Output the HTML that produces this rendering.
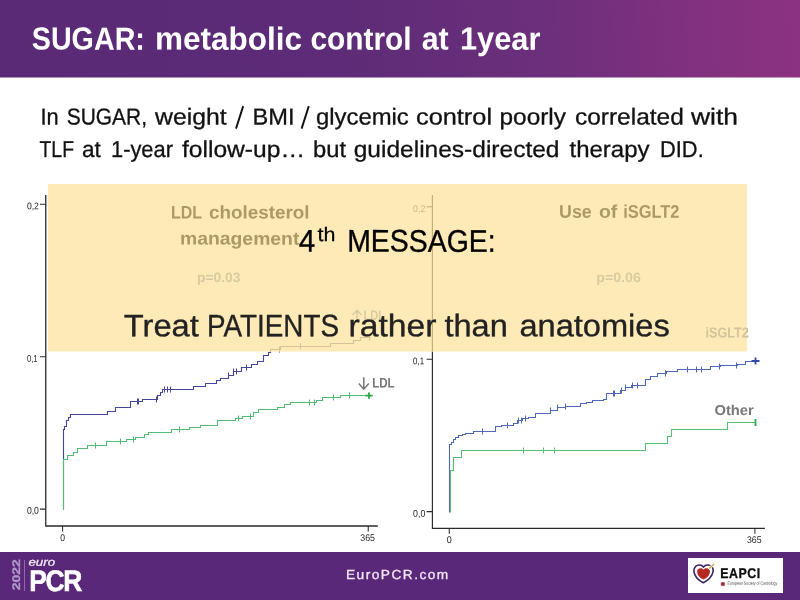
<!DOCTYPE html>
<html><head><meta charset="utf-8"><title>SUGAR: metabolic control at 1year</title>
<style>
html,body{margin:0;padding:0;}
body{width:800px;height:600px;position:relative;overflow:hidden;background:#fff;font-family:"Liberation Sans",sans-serif;}
.abs{position:absolute;}
.t{position:absolute;left:0;top:0;white-space:nowrap;line-height:1;transform-origin:0 0;}
#wrap{position:absolute;left:0;top:0;width:800px;height:600px;overflow:hidden;will-change:transform;}
#hdr{left:0;top:0;width:800px;height:77px;background:linear-gradient(100deg,#5a2a76 0%,#5c2b77 40%,#7a2f7e 75%,#8d3182 100%);}
#ftr{left:0;top:552px;width:800px;height:48px;background:#5a2878;}
#ybox{left:48px;top:184px;width:700px;height:168px;background:#feeab6;}
</style></head><body><div id="wrap">
<svg class="abs" style="left:0;top:0" width="800" height="79" viewBox="0 0 800 79"><defs><linearGradient id="hg" gradientUnits="userSpaceOnUse" x1="0" y1="60" x2="800" y2="0"><stop offset="0" stop-color="#5a2a76"/><stop offset="0.42" stop-color="#5d2b77"/><stop offset="0.68" stop-color="#6c2f7b"/><stop offset="0.86" stop-color="#80317f"/><stop offset="1" stop-color="#8c3282"/></linearGradient></defs><rect x="0" y="0" width="800" height="77.5" fill="url(#hg)"/></svg>
<div class="t" style="font-size:32px;color:#fff;font-weight:bold;transform:translate(31.80px,22.60px) scaleX(0.8961) rotate(0.03deg);">SUGAR:</div>
<div class="t" style="font-size:32px;color:#fff;font-weight:bold;transform:translate(155.00px,22.60px) scaleX(0.9841) rotate(0.03deg);">metabolic</div>
<div class="t" style="font-size:32px;color:#fff;font-weight:bold;transform:translate(310.40px,22.60px) scaleX(0.9332) rotate(0.03deg);">control</div>
<div class="t" style="font-size:32px;color:#fff;font-weight:bold;transform:translate(421.70px,22.60px) scaleX(0.9491) rotate(0.03deg);">at</div>
<div class="t" style="font-size:32px;color:#fff;font-weight:bold;transform:translate(460.00px,22.60px) scaleX(0.9624) rotate(0.03deg);">1year</div>
<div class="t" style="font-size:23px;color:#111;transform:translate(40.40px,105.50px) scaleX(0.9488) rotate(0.03deg);-webkit-text-stroke:0.3px #111;">In</div>
<div class="t" style="font-size:23px;color:#111;transform:translate(66.70px,105.50px) scaleX(0.9106) rotate(0.03deg);-webkit-text-stroke:0.3px #111;">SUGAR,</div>
<div class="t" style="font-size:23px;color:#111;transform:translate(155.05px,105.50px) scaleX(1.0761) rotate(0.03deg);-webkit-text-stroke:0.3px #111;">weight</div>
<div class="t" style="font-size:23px;color:#111;transform:translate(252.50px,105.50px) scaleX(1.0270) rotate(0.03deg);-webkit-text-stroke:0.3px #111;">BMI</div>
<div class="t" style="font-size:23px;color:#111;transform:translate(316.00px,105.50px) scaleX(1.0367) rotate(0.03deg);-webkit-text-stroke:0.3px #111;">glycemic</div>
<div class="t" style="font-size:23px;color:#111;transform:translate(416.00px,105.50px) scaleX(1.1011) rotate(0.03deg);-webkit-text-stroke:0.3px #111;">control</div>
<div class="t" style="font-size:23px;color:#111;transform:translate(499.50px,105.50px) scaleX(1.0614) rotate(0.03deg);-webkit-text-stroke:0.3px #111;">poorly</div>
<div class="t" style="font-size:23px;color:#111;transform:translate(575.00px,105.50px) scaleX(1.0632) rotate(0.03deg);-webkit-text-stroke:0.3px #111;">correlated</div>
<div class="t" style="font-size:23px;color:#111;transform:translate(691.05px,105.50px) scaleX(1.1480) rotate(0.03deg);-webkit-text-stroke:0.3px #111;">with</div>
<div class="t" style="font-size:23px;color:#111;transform:translate(39.50px,138.00px) scaleX(0.8436) rotate(0.03deg);-webkit-text-stroke:0.3px #111;">TLF</div>
<div class="t" style="font-size:23px;color:#111;transform:translate(82.00px,138.00px) scaleX(0.9801) rotate(0.03deg);-webkit-text-stroke:0.3px #111;">at</div>
<div class="t" style="font-size:23px;color:#111;transform:translate(111.00px,138.00px) scaleX(0.9508) rotate(0.03deg);-webkit-text-stroke:0.3px #111;">1-year</div>
<div class="t" style="font-size:23px;color:#111;transform:translate(182.00px,138.00px) scaleX(1.0691) rotate(0.03deg);-webkit-text-stroke:0.3px #111;">follow-up…</div>
<div class="t" style="font-size:23px;color:#111;transform:translate(313.00px,138.00px) scaleX(1.0322) rotate(0.03deg);-webkit-text-stroke:0.3px #111;">but</div>
<div class="t" style="font-size:23px;color:#111;transform:translate(353.75px,138.00px) scaleX(1.0657) rotate(0.03deg);-webkit-text-stroke:0.3px #111;">guidelines-directed</div>
<div class="t" style="font-size:23px;color:#111;transform:translate(569.50px,138.00px) scaleX(1.0430) rotate(0.03deg);-webkit-text-stroke:0.3px #111;">therapy</div>
<div class="t" style="font-size:23px;color:#111;transform:translate(660.00px,138.00px) scaleX(0.9511) rotate(0.03deg);-webkit-text-stroke:0.3px #111;">DID.</div>
<svg class="abs" width="800" height="600" viewBox="0 0 800 600" style="left:0;top:0">
<g fill="none" stroke-linejoin="miter">
<path d="M45.75,195V526H377.8" stroke="#2a2a2a" stroke-width="1.3"/>
<path d="M40,204.3h5.5M40,356.7h5.5M40,509.1h5.5M62.6,526v5.5M368.25,526v5.5" stroke="#2a2a2a" stroke-width="1.05"/>
<path d="M432.4,195V528.3H764.9" stroke="#2a2a2a" stroke-width="1.15"/>
<path d="M426.6,206.8h5.5M426.6,359.2h5.5M426.6,511.6h5.5M449.25,528.3v5.5M754.9,528.3v5.5" stroke="#2a2a2a" stroke-width="1.05"/>
<path d="M63.5,509.5 V429.5 H64.5 V426.5 H66.5 V420.5 H68.5 V417.5 H70.5 V414.5 H107.5 V411.5 H115.5 V407.5 H130.5 V401.5 H142.5 V399.5 H157.5 V395.5 H160.5 V392.5 H162.5 V389.5 H193.5 V386.5 H205.5 V383.5 H216.5 V380.5 H220.5 V378.5 H228.5 V375.5 H233.5 V371.5 H241.5 V367.5 H251.5 V364.5 H257.5 V361.5 H263.5 V355.5 H268.5 V352.5 H270.5 V349.5 H280.5 V346.5 H330.5 V343.5 H353.5 V340.5 H360.5 V337.5 H370.5 V337.5" stroke="#45459a" stroke-width="1.1"/>
<path d="M137.5,398.5v6.0 M138.5,398.5v6.0 M156.5,396.5v6.0 M164.5,386.5v6.0 M167.5,386.5v6.0 M170.5,386.5v6.0 M228.5,372.5v6.0 M233.5,368.5v6.0 M236.5,368.5v6.0 M246.5,364.5v6.0 M279.5,346.5v6.0 M300.5,343.5v6.0 M369.5,334.5v6.0 " stroke="#45459a" stroke-width="1"/>
<path d="M63.5,509.5 V459.5 H67.5 V455.5 H73.5 V452.5 H77.5 V448.5 H87.5 V445.5 H106.5 V441.5 H126.5 V439.5 H135.5 V437.5 H144.5 V434.5 H148.5 V432.5 H171.5 V429.5 H189.5 V427.5 H200.5 V425.5 H217.5 V420.5 H235.5 V418.5 H242.5 V416.5 H253.5 V412.5 H258.5 V409.5 H277.5 V407.5 H284.5 V404.5 H290.5 V402.5 H316.5 V400.5 H322.5 V397.5 H340.5 V395.5 H369.5 V395.5" stroke="#50bb72" stroke-width="1.1"/>
<path d="M95.5,442.5v6.0 M120.5,438.5v6.0 M133.5,436.5v6.0 M179.5,426.5v6.0 M238.5,415.5v6.0 M250.5,413.5v6.0 M309.5,399.5v6.0 M314.5,399.5v6.0 M333.5,394.5v6.0 M349.5,392.5v6.0 " stroke="#50bb72" stroke-width="1"/>
<path d="M365.4,395.6h7.4M369,392.4v6.4" stroke="#2fa84f" stroke-width="1.9"/>
<path d="M449.5,512.5 V444.5 H451.5 V442.5 H453.5 V439.5 H455.5 V437.5 H458.5 V435.5 H462.5 V434.5 H465.5 V433.5 H473.5 V431.5 H495.5 V426.5 H501.5 V425.5 H513.5 V423.5 H517.5 V420.5 H522.5 V418.5 H528.5 V417.5 H535.5 V413.5 H545.5 V413.5 H550.5 V410.5 H557.5 V407.5 H565.5 V406.5 H576.5 V406.5 H580.5 V403.5 H586.5 V402.5 H592.5 V400.5 H603.5 V399.5 H606.5 V393.5 H615.5 V393.5 H620.5 V390.5 H625.5 V387.5 H631.5 V385.5 H638.5 V385.5 H645.5 V379.5 H650.5 V376.5 H657.5 V373.5 H666.5 V371.5 H677.5 V369.5 H702.5 V369.5 H710.5 V366.5 H720.5 V365.5 H737.5 V364.5 H745.5 V361.5 H755.5 V361.5" stroke="#5068b8" stroke-width="1.1"/>
<path d="M482.5,428.5v6.0 M507.5,422.5v6.0 M518.5,417.5v6.0 M521.5,417.5v6.0 M525.5,415.5v6.0 M550.5,407.5v6.0 M557.5,404.5v6.0 M565.5,403.5v6.0 M613.5,390.5v6.0 M614.5,390.5v6.0 M621.5,387.5v6.0 M625.5,384.5v6.0 M632.5,382.5v6.0 M637.5,382.5v6.0 M665.5,370.5v6.0 M687.5,366.5v6.0 M696.5,366.5v6.0 M701.5,366.5v6.0 M719.5,363.5v6.0 M736.5,362.5v6.0 " stroke="#5068b8" stroke-width="1"/>
<path d="M751.5,361h8M755.5,357.5v7" stroke="#3048a8" stroke-width="1.8"/>
<path d="M450.5,512.5 V470.5 H453.5 V457.5 H461.5 V450.5 H645.5 V443.5 H667.5 V436.5 H671.5 V429.5 H727.5 V422.5 H755.5 V422.5" stroke="#55c074" stroke-width="1.1"/>
<path d="M523.5,447.5v6.0 M543.5,447.5v6.0 M554.5,447.5v6.0 " stroke="#55c074" stroke-width="1"/>
<path d="M755.5,419v7" stroke="#2fa84f" stroke-width="1.8"/>
<path d="M236,128.6L243.2,106.1M301.6,128.6L308.8,106.1" stroke="#111" stroke-width="1.9"/>
<path d="M363.8,377.2V389M358.8,383.6L363.8,389.2L368.8,383.6" stroke="#777" stroke-width="1.5"/>
</g>
</svg>
<div class="t" style="font-size:9.7px;color:#222;transform:translate(26.90px,201.35px) scaleX(0.8900) rotate(0.03deg);">0,2</div>
<div class="t" style="font-size:9.7px;color:#222;transform:translate(26.90px,353.75px) scaleX(0.7862) rotate(0.03deg);">0,1</div>
<div class="t" style="font-size:9.7px;color:#222;transform:translate(26.90px,505.75px) scaleX(0.8900) rotate(0.03deg);">0,0</div>
<div class="t" style="font-size:9.7px;color:#222;transform:translate(60.25px,532.90px) scaleX(0.8807) rotate(0.03deg);">0</div>
<div class="t" style="font-size:9.7px;color:#222;transform:translate(360.30px,532.90px) scaleX(0.9086) rotate(0.03deg);">365</div>
<div class="t" style="font-size:9.7px;color:#222;transform:translate(413.10px,356.35px) scaleX(0.8084) rotate(0.03deg);">0,1</div>
<div class="t" style="font-size:9.7px;color:#222;transform:translate(413.10px,508.75px) scaleX(0.9048) rotate(0.03deg);">0,0</div>
<div class="t" style="font-size:9.7px;color:#222;transform:translate(446.80px,535.00px) scaleX(0.9178) rotate(0.03deg);">0</div>
<div class="t" style="font-size:9.7px;color:#222;transform:translate(747.00px,535.00px) scaleX(0.9024) rotate(0.03deg);">365</div>
<div class="t" style="font-size:13.8px;color:#777;font-weight:bold;transform:translate(372.20px,376.60px) scaleX(0.8387) rotate(0.03deg);">LDL</div>
<div class="t" style="font-size:14.3px;color:#777;font-weight:bold;transform:translate(714.50px,403.00px) scaleX(1.0305) rotate(0.03deg);">Other</div>
<div class="t" style="font-size:14.5px;color:#999;font-weight:bold;transform:translate(705.50px,325.50px) scaleX(0.8716) rotate(0.03deg);">iSGLT2</div>
<svg class="abs" style="left:46px;top:183px" width="704" height="171" viewBox="46 183 704 171"><rect x="47.9" y="184.1" width="699.1" height="167.45" fill="#feeab6"/></svg>
<svg class="abs" width="699" height="167.5" viewBox="48 184 699 167.5" style="left:48px;top:184px">
<g fill="none">
<path d="M432.4,195V352" stroke="#c3af78" stroke-width="1.15"/>
<path d="M426.6,206.8h5.5" stroke="#c3af78" stroke-width="1.05"/>
<path d="M63.5,509.5 V429.5 H64.5 V426.5 H66.5 V420.5 H68.5 V417.5 H70.5 V414.5 H107.5 V411.5 H115.5 V407.5 H130.5 V401.5 H142.5 V399.5 H157.5 V395.5 H160.5 V392.5 H162.5 V389.5 H193.5 V386.5 H205.5 V383.5 H216.5 V380.5 H220.5 V378.5 H228.5 V375.5 H233.5 V371.5 H241.5 V367.5 H251.5 V364.5 H257.5 V361.5 H263.5 V355.5 H268.5 V352.5 H270.5 V349.5 H280.5 V346.5 H330.5 V343.5 H353.5 V340.5 H360.5 V337.5 H370.5 V337.5" stroke="#d2c398" stroke-width="1.1"/>
<path d="M279.5,346.5v6.0 M300.5,343.5v6.0 M369.5,334.5v6.0 " stroke="#d2c398" stroke-width="1"/>
<path d="M357,320v-9.5M352.5,315l4.5,-4.8l4.5,4.8" stroke="#d8cca2" stroke-width="1.4"/>
</g>
</svg>
<div class="t" style="font-size:9.7px;color:#c8b888;transform:translate(413.10px,203.95px) scaleX(0.9048) rotate(0.03deg);">0,2</div>
<div class="t" style="font-size:18.3px;color:#ab9a66;font-weight:bold;transform:translate(171.00px,203.50px) scaleX(0.8714) rotate(0.03deg);">LDL</div>
<div class="t" style="font-size:18.3px;color:#ab9a66;font-weight:bold;transform:translate(209.00px,203.50px) scaleX(1.0304) rotate(0.03deg);">cholesterol</div>
<div class="t" style="font-size:18.3px;color:#ab9a66;font-weight:bold;transform:translate(180.00px,229.60px) scaleX(1.0587) rotate(0.03deg);">management</div>
<div class="t" style="font-size:13.6px;color:#d8cba0;font-weight:bold;transform:translate(197.00px,271.00px) scaleX(1.0183) rotate(0.03deg);">p=0.03</div>
<div class="t" style="font-size:18.3px;color:#ab9a66;font-weight:bold;transform:translate(559.10px,202.80px) scaleX(0.9713) rotate(0.03deg);">Use</div>
<div class="t" style="font-size:18.3px;color:#ab9a66;font-weight:bold;transform:translate(599.00px,202.80px) scaleX(1.0629) rotate(0.03deg);">of</div>
<div class="t" style="font-size:18.3px;color:#ab9a66;font-weight:bold;transform:translate(623.20px,202.80px) scaleX(0.8980) rotate(0.03deg);">iSGLT2</div>
<div class="t" style="font-size:13.6px;color:#d8cba0;font-weight:bold;transform:translate(596.30px,271.00px) scaleX(1.0417) rotate(0.03deg);">p=0.06</div>
<div class="t" style="font-size:13.8px;color:#d8cca2;font-weight:bold;transform:translate(363.50px,309.00px) scaleX(0.8014) rotate(0.03deg);">LDL</div>
<div class="abs" style="left:705px;top:325px;width:43px;height:15px;overflow:hidden;"><div class="t" style="font-size:14.5px;color:#d2c59c;font-weight:bold;transform:translate(0.50px,0.50px) scaleX(0.8716) rotate(0.03deg);">iSGLT2</div>
</div>
<div class="t" style="font-size:31.2px;color:#000;transform:translate(298.80px,225.60px) scaleX(0.9512) rotate(0.03deg);-webkit-text-stroke:0.35px #000;">4</div>
<div class="t" style="font-size:19.5px;color:#000;transform:translate(317.50px,225.00px) scaleX(1.1007) rotate(0.03deg);-webkit-text-stroke:0.25px #000;">th</div>
<div class="t" style="font-size:31.2px;color:#000;transform:translate(347.20px,225.60px) scaleX(0.9111) rotate(0.03deg);-webkit-text-stroke:0.35px #000;">MESSAGE:</div>
<div class="t" style="font-size:31px;color:#222;transform:translate(123.80px,310.20px) scaleX(1.0533) rotate(0.03deg);-webkit-text-stroke:0.35px #222;">Treat</div>
<div class="t" style="font-size:31px;color:#222;transform:translate(207.10px,310.20px) scaleX(0.8975) rotate(0.03deg);-webkit-text-stroke:0.35px #222;">PATIENTS</div>
<div class="t" style="font-size:31px;color:#222;transform:translate(348.50px,310.20px) scaleX(1.0856) rotate(0.03deg);-webkit-text-stroke:0.35px #222;">rather</div>
<div class="t" style="font-size:31px;color:#222;transform:translate(444.40px,310.20px) scaleX(1.0510) rotate(0.03deg);-webkit-text-stroke:0.35px #222;">than</div>
<div class="t" style="font-size:31px;color:#222;transform:translate(519.40px,310.20px) scaleX(1.0515) rotate(0.03deg);-webkit-text-stroke:0.35px #222;">anatomies</div>
<div id="ftr" class="abs"></div>
<div class="t" style="font-size:13.1px;color:#f5e6fa;letter-spacing:1.4px;transform:translate(346.00px,568.00px) scaleX(1.0468) rotate(0.03deg);-webkit-text-stroke:0.3px #f5e6fa;">EuroPCR.com</div>
<div class="abs" style="left:24px;top:560px;width:1px;height:31px;background:#8d6cab;"></div>
<div class="t" style="font-size:11px;color:#f1eaf6;font-style:italic;transform:translate(28.50px,556.80px) scaleX(1.2039) rotate(0.03deg);-webkit-text-stroke:0.3px #f1eaf6;">euro</div>
<div class="t" style="font-size:29.8px;color:#fff;font-weight:bold;letter-spacing:-1.6px;transform:translate(29.30px,566.00px) scaleX(0.8860) rotate(0.03deg);-webkit-text-stroke:0.6px #fff;">PCR</div>
<div class="t" style="font-size:11px;font-weight:bold;color:#b097cc;-webkit-text-stroke:0.3px #b097cc;transform:translate(11px,590.3px) rotate(-90.03deg) scaleX(1.27);">2022</div>
<div class="abs" style="left:687.5px;top:558px;width:95px;height:34.5px;background:#fff;"></div>
<svg class="abs" style="left:688px;top:558px" width="40" height="32" viewBox="688 558 40 32">
<path d="M703.5,566.9 C701.6,564.4 696.6,564.3 694.7,567.6 C692.7,571.1 694.6,578.6 703.3,582.7 C712,578.6 714.4,571.1 712.5,567.6 C710.6,564.3 705.4,564.4 703.5,566.9 Z" fill="#fff" stroke="#3d2366" stroke-width="1.6"/>
<path d="M703.5,569.7 C702,567.7 698.7,567.7 697.5,570.1 C696.3,572.7 698.1,577.4 703.5,579.6 C708.9,577.4 710.8,572.7 709.6,570.1 C708.4,567.7 705,567.7 703.5,569.7 Z" fill="#b5281f"/>
<path d="M708.6,569.0 L714.2,563.8" stroke="#fff" stroke-width="2.6" fill="none"/>
<path d="M709.2,568.5 L714.0,564.0" stroke="#d6a34a" stroke-width="1.4" fill="none"/>
<circle cx="722.9" cy="584" r="2.3" fill="#c65a66"/><circle cx="722.9" cy="584" r="1.2" fill="#a01e2c"/>
</svg>
<div class="t" style="font-size:14.1px;color:#0c0c0c;font-weight:bold;letter-spacing:0.6px;transform:translate(720.20px,565.90px) scaleX(0.8793) rotate(0.03deg);-webkit-text-stroke:0.3px #0c0c0c;">EAPCI</div>
<div class="t" style="font-size:4.6px;color:#444;transform:translate(727.50px,581.80px) scaleX(0.7713) rotate(0.03deg);">European Society of Cardiology</div>
</div></body></html>
